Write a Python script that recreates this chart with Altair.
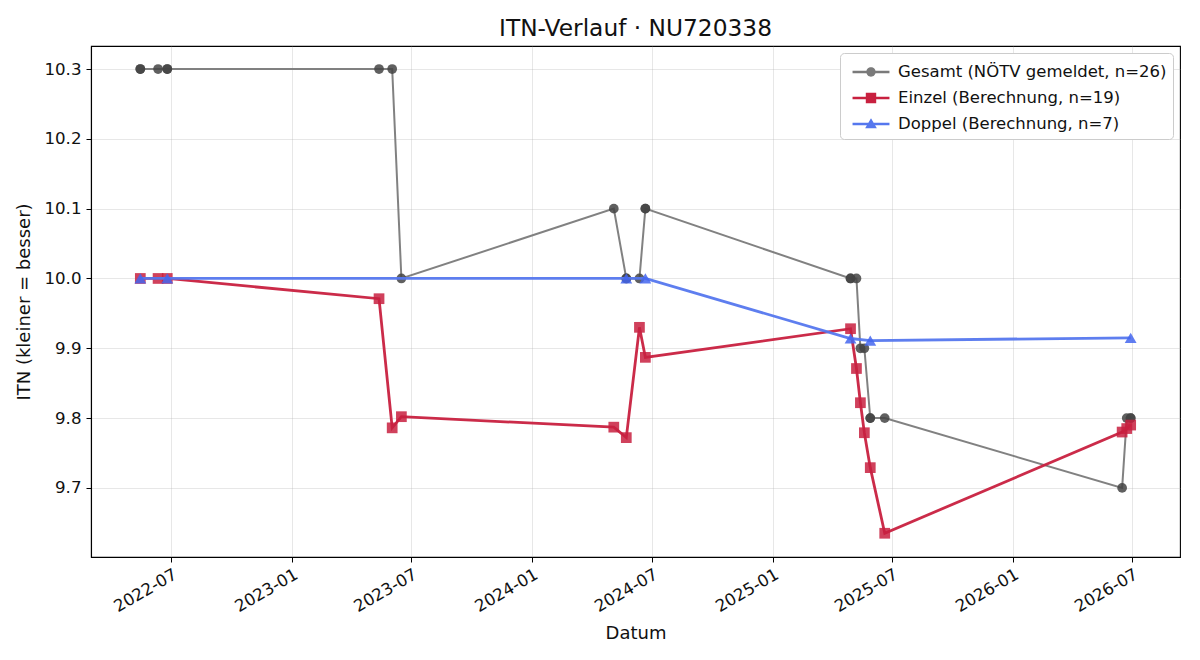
import altair as alt
import pandas as pd

# ---------------- data ----------------
series_names = [
    "Gesamt (NÖTV gemeldet, n=26)",
    "Einzel (Berechnung, n=19)",
    "Doppel (Berechnung, n=7)",
]
series_colors = ["#7a7a7a", "#c8203f", "#5577ee"]

gesamt_dates = [
    "2022-05-15", "2022-05-15", "2022-06-11", "2022-06-25", "2022-06-25",
    "2023-05-13", "2023-06-02", "2023-06-16",
    "2024-05-04", "2024-05-23", "2024-05-23", "2024-06-12", "2024-06-21", "2024-06-21",
    "2025-04-29", "2025-04-29", "2025-05-08", "2025-05-14", "2025-05-20",
    "2025-05-29", "2025-05-29", "2025-06-20",
    "2026-06-16", "2026-06-23", "2026-06-29", "2026-06-29",
]
gesamt_vals = [
    10.3, 10.3, 10.3, 10.3, 10.3,
    10.3, 10.3, 10.0,
    10.1, 10.0, 10.0, 10.0, 10.1, 10.1,
    10.0, 10.0, 10.0, 9.9, 9.9,
    9.8, 9.8, 9.8,
    9.7, 9.8, 9.8, 9.8,
]

einzel_dates = [
    "2022-05-15", "2022-06-11", "2022-06-25",
    "2023-05-13", "2023-06-02", "2023-06-16",
    "2024-05-04", "2024-05-23", "2024-06-12", "2024-06-21",
    "2025-04-29", "2025-05-08", "2025-05-14", "2025-05-20", "2025-05-29", "2025-06-20",
    "2026-06-16", "2026-06-23", "2026-06-29",
]
einzel_vals = [
    10.0, 10.0, 10.0,
    9.971, 9.786, 9.802,
    9.787, 9.772, 9.930, 9.887,
    9.928, 9.871, 9.822, 9.779, 9.729, 9.635,
    9.780, 9.785, 9.790,
]

doppel_dates = [
    "2022-05-15", "2022-06-25", "2024-05-23", "2024-06-21",
    "2025-04-29", "2025-05-29", "2026-06-29",
]
doppel_vals = [10.0, 10.0, 10.0, 10.0, 9.914, 9.911, 9.915]

x_ticks = ["2022-07", "2023-01", "2023-07", "2024-01", "2024-07",
           "2025-01", "2025-07", "2026-01", "2026-07"]
y_ticks = [9.7, 9.8, 9.9, 10.0, 10.1, 10.2, 10.3]
x_domain = ["2022-03-01", "2026-09-12"]
y_domain = [9.601, 10.333]

# ---------------- table ----------------
rows = []
for name, dates, vals in zip(series_names,
                             [gesamt_dates, einzel_dates, doppel_dates],
                             [gesamt_vals, einzel_vals, doppel_vals]):
    for i, (d, v) in enumerate(zip(dates, vals)):
        rows.append({"series": name, "date": d + "T00:00:00", "itn": v, "idx": i})
df = pd.DataFrame(rows)


def dt(s):
    parts = [int(p) for p in s.split("-")]
    return alt.DateTime(year=parts[0], month=parts[1], date=parts[2] if len(parts) > 2 else 1)


FONT = "DejaVu Sans"

x_enc = alt.X(
    "date:T",
    scale=alt.Scale(domain=[dt(s) for s in x_domain]),
    axis=alt.Axis(
        values=[dt(s) for s in x_ticks], format="%Y-%m", title="Datum",
        labelAngle=-30, labelAlign="right", labelBaseline="top",
        labelPadding=4, titlePadding=9,
    ),
)
y_enc = alt.Y(
    "itn:Q",
    scale=alt.Scale(domain=y_domain, nice=False, zero=False),
    axis=alt.Axis(values=y_ticks, format=".1f", title="ITN  (kleiner = besser)",
                  labelPadding=5, titlePadding=10),
)
color_scale = alt.Scale(domain=series_names, range=series_colors)

# legend symbols: a horizontal line with the marker on it
line_part = "M-1.42,-0.1 L1.42,-0.1 L1.42,0.1 L-1.42,0.1 Z"
legend_paths = [
    line_part + " M-0.36,0 A0.36,0.36 0 1,1 0.36,0 A0.36,0.36 0 1,1 -0.36,0 Z",
    line_part + " M-0.4,-0.4 L0.4,-0.4 L0.4,0.4 L-0.4,0.4 Z",
    line_part + " M0,-0.45 L0.45,0.33 L-0.45,0.33 Z",
]

layers = []
widths = [2.0, 2.8, 2.8]
shapes = ["circle", "square", "triangle-up"]
sizes = [95, 115, 140]
point_colors = ["#444444", "#c8203f", "#4466ee"]
for name, w, shp, sz, pc in zip(series_names, widths, shapes, sizes, point_colors):
    sub = alt.Chart(df).transform_filter(alt.datum.series == name)
    line = sub.mark_line(strokeWidth=w, opacity=0.95).encode(
        x=x_enc, y=y_enc,
        color=alt.Color("series:N", scale=color_scale, legend=None),
        order="idx:Q",
    )
    pts = sub.mark_point(filled=True, shape=shp, size=sz, opacity=0.85).encode(
        x=x_enc, y=y_enc,
        color=alt.value(pc),
    )
    layers += [line, pts]

legend_layer = alt.Chart(df).transform_filter("datum.itn > 100").mark_point(
    filled=True, opacity=1
).encode(
    x=x_enc, y=y_enc,
    color=alt.Color("series:N", scale=color_scale, legend=None),
    shape=alt.Shape(
        "series:N",
        scale=alt.Scale(domain=series_names, range=legend_paths),
        legend=alt.Legend(
            title=None, orient="top-right", offset=7,
            fillColor="white", strokeColor="#cccccc", cornerRadius=4,
            padding=6, symbolSize=676, symbolOffset=12, labelOffset=14,
            rowPadding=4, labelFontSize=16.5, labelFont=FONT, labelColor="#111111",
            labelLimit=500, symbolOpacity=1, symbolStrokeWidth=0,
            symbolFillColor=alt.ExprRef("scale('color', datum.value)"),
        ),
    ),
)

chart = alt.layer(*layers, legend_layer).resolve_scale(shape="independent").properties(
    width=1089, height=511,
    title=alt.Title("ITN-Verlauf · NU720338", fontSize=23.3, fontWeight="normal",
                    font=FONT, anchor="middle", frame="group", offset=5, color="#111111"),
    autosize=alt.AutoSizeParams(type="none"),
    padding={"left": 91, "top": 46, "right": 20, "bottom": 103},
).configure(
    font=FONT,
).configure_view(
    stroke="black", strokeWidth=1.1,
).configure_axis(
    labelFont=FONT, titleFont=FONT, labelFontSize=16.67, titleFontSize=18,
    titleFontWeight="normal", labelColor="#111111", titleColor="#111111",
    domainColor="black", tickColor="black", tickSize=5, domainWidth=1.1,
    gridColor="#b0b0b0", gridOpacity=0.35, gridWidth=0.9,
)

chart.save("out.html", embed_options={"renderer": "svg", "actions": False})
